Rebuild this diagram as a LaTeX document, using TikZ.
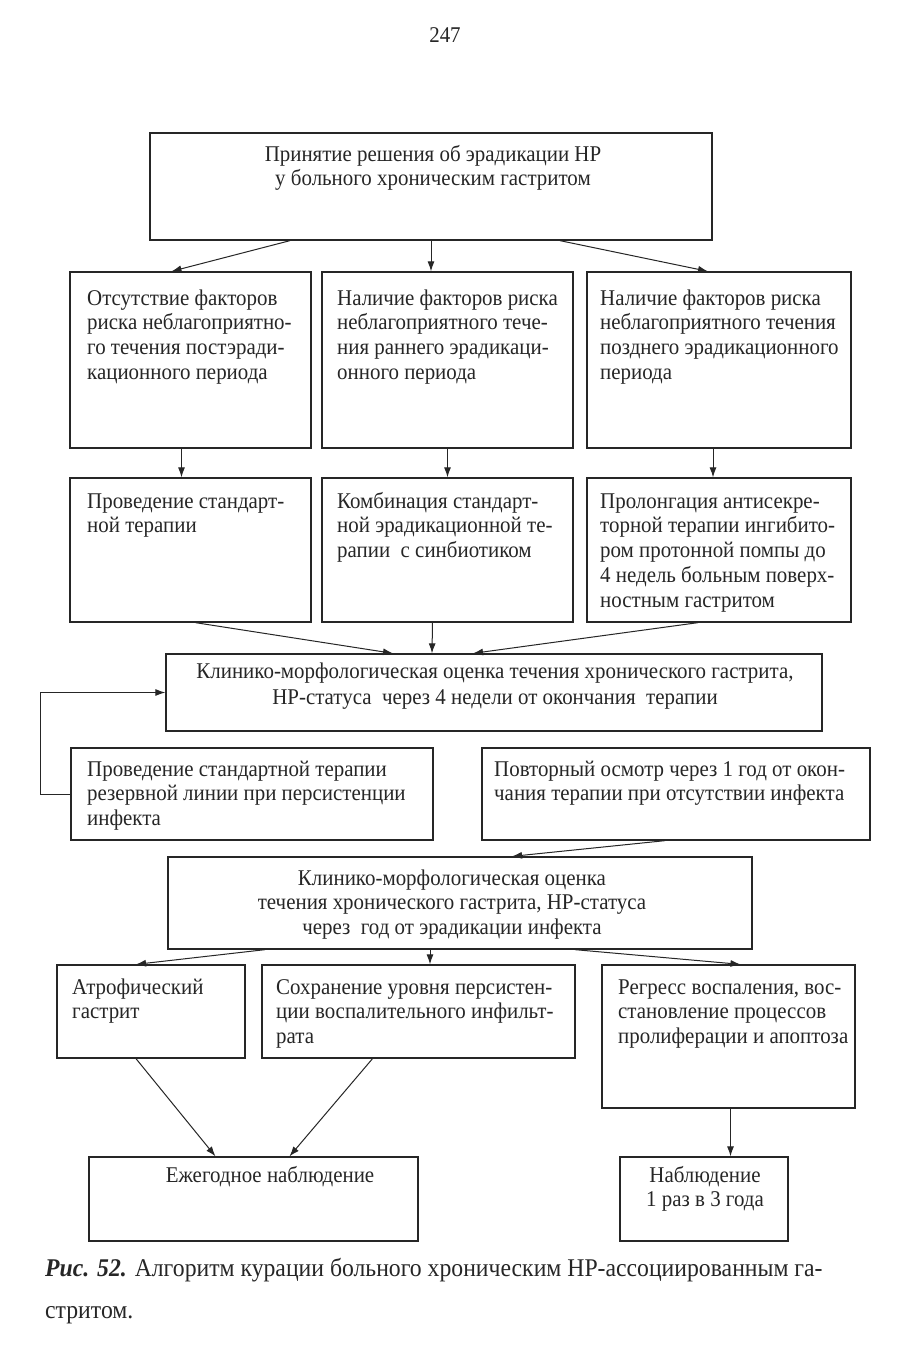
\documentclass[tikz,border=0pt]{standalone}
\usepackage{fontspec}
\setmainfont{Liberation Serif}[FakeStretch=0.93]
\usetikzlibrary{arrows.meta,fit}
\newcommand{\fsz}{\fontsize{22.5}{24.8}\selectfont}
\newcommand{\capsz}{\fontsize{25.5}{30}\selectfont}
\begin{document}
\begin{tikzpicture}[x=1pt,y=-1pt,
  box/.style={draw=black!85, line width=1.3pt, inner sep=0pt},
  txt/.style={inner sep=0pt, align=left, text=black!85, font=\fsz, anchor=north west},
  ctxt/.style={inner sep=0pt, align=center, text=black!85, font=\fsz},
  arr/.style={draw=black!85, line width=1pt, -{Latex[length=10pt,width=7pt]}}]
\useasboundingbox[fill=white] (0,0) rectangle (911,1355);

\node[ctxt] (pg) at (445,35) {247};

% top box
\node[box, fit={(150,133)(712,240)}] (top) {};
\node[ctxt, anchor=north] (topT) at (433,143.6) {\strut Принятие решения об эрадикации HP\\у больного хроническим гастритом};

% row 2
\node[box, fit={(70,272)(311,448)}] (a2) {};
\node[box, fit={(322,272)(573,448)}] (b2) {};
\node[box, fit={(587,272)(851,448)}] (c2) {};
\node[txt] (a2T) at (87,287.6) {\strut Отсутствие факторов\\риска неблагоприятно-\\го течения постэради-\\кационного периода};
\node[txt] (b2T) at (337,287.6) {\strut Наличие факторов риска\\неблагоприятного тече-\\ния раннего эрадикаци-\\онного периода};
\node[txt] (c2T) at (600,287.6) {\strut Наличие факторов риска\\неблагоприятного течения\\позднего эрадикационного\\периода};

% row 3
\node[box, fit={(70,478)(311,622)}] (a3) {};
\node[box, fit={(322,478)(573,622)}] (b3) {};
\node[box, fit={(587,478)(851,622)}] (c3) {};
\node[txt] (a3T) at (87,490.6) {\strut Проведение стандарт-\\ной терапии};
\node[txt] (b3T) at (337,490.6) {\strut Комбинация стандарт-\\ной эрадикационной те-\\рапии\ \ с синбиотиком};
\node[txt] (c3T) at (600,490.6) {\strut Пролонгация антисекре-\\торной терапии ингибито-\\ром протонной помпы до\\4 недель больным поверх-\\ностным гастритом};

% K1
\node[box, fit={(166,654)(822,731)}] (k1) {};
\node[ctxt, anchor=north] (k1T) at (495,660.6) {\strut Клинико-морфологическая оценка течения хронического гастрита,\\[2pt]HP-статуса\ \ через 4 недели от окончания\ \ терапии};

% R and P
\node[box, fit={(71,748)(433,840)}] (r) {};
\node[box, fit={(482,748)(870,840)}] (p) {};
\node[txt] (rT) at (87,758.6) {\strut Проведение стандартной терапии\\резервной линии при персистенции\\инфекта};
\node[txt] (pT) at (494,758.6) {\strut Повторный осмотр через 1 год от окон-\\чания терапии при отсутствии инфекта};

% K2
\node[box, fit={(168,857)(752,949)}] (k2) {};
\node[ctxt, anchor=north] (k2T) at (452,867.6) {\strut Клинико-морфологическая оценка\\течения хронического гастрита, HP-статуса\\через\ \ год от эрадикации инфекта};

% row 5
\node[box, fit={(57,965)(245,1058)}] (at) {};
\node[box, fit={(262,965)(575,1058)}] (s) {};
\node[box, fit={(602,965)(855,1108)}] (rg) {};
\node[txt] (atT) at (72,976.6) {\strut Атрофический\\гастрит};
\node[txt] (sT) at (276,976.6) {\strut Сохранение уровня персистен-\\ции воспалительного инфильт-\\рата};
\node[txt] (rgT) at (618,976.6) {\strut Регресс воспаления, вос-\\становление процессов\\пролиферации и апоптоза};

% row 6
\node[box, fit={(89,1157)(418,1241)}] (e) {};
\node[box, fit={(620,1157)(788,1241)}] (n) {};
\node[ctxt, anchor=north] (eT) at (270,1164.6) {\strut Ежегодное наблюдение};
\node[ctxt, anchor=north] (nT) at (705,1164.6) {\strut Наблюдение\\1 раз в 3 года};

% caption
\node[txt, font=\capsz, anchor=base west] (cap1) at (45,1276) {\textbf{\textit{Рис. 52.}} Алгоритм курации больного хроническим HP-ассоциированным га-};
\node[txt, font=\capsz, anchor=base west] (cap2) at (45,1318) {стритом.};

% arrows
\draw[arr] ([xshift=-141pt]top.south) -- ([xshift=-19pt]a2.north);
\draw[arr] (top.south) -- (top.south |- b2.north);
\draw[arr] ([xshift=129pt]top.south) -- ([xshift=-11pt]c2.north);

\draw[arr] ([xshift=-9pt]a2.south) -- ([xshift=-9pt]a3.north);
\draw[arr] (b2.south) -- (b3.north);
\draw[arr] ([xshift=-6pt]c2.south) -- ([xshift=-6pt]c3.north);

\draw[arr] ([xshift=5pt]a3.south) -- ([xshift=-101pt]k1.north);
\draw[arr] ([xshift=-15pt]b3.south) -- ([xshift=-62pt]k1.north);
\draw[arr] ([xshift=-21pt]c3.south) -- ([xshift=-21pt]k1.north);

\draw[arr] (r.west) -- ++(-30,0) |- (k1.west);

\draw[arr] ([xshift=-11pt]p.south) -- ([xshift=52pt]k2.north);

\draw[arr] ([xshift=-195pt]k2.south) -- ([xshift=-15pt]at.north);
\draw[arr] ([xshift=-30pt]k2.south) -- ([xshift=-30pt]k2.south |- s.north);
\draw[arr] ([xshift=115pt]k2.south) -- ([xshift=12pt]rg.north);

\draw[arr] ([xshift=-15pt]at.south) -- ([xshift=-38pt]e.north);
\draw[arr] ([xshift=-46pt]s.south) -- ([xshift=36pt]e.north);
\draw[arr] ([xshift=2pt]rg.south) -- ([xshift=2pt]rg.south |- n.north);
\end{tikzpicture}
\end{document}
